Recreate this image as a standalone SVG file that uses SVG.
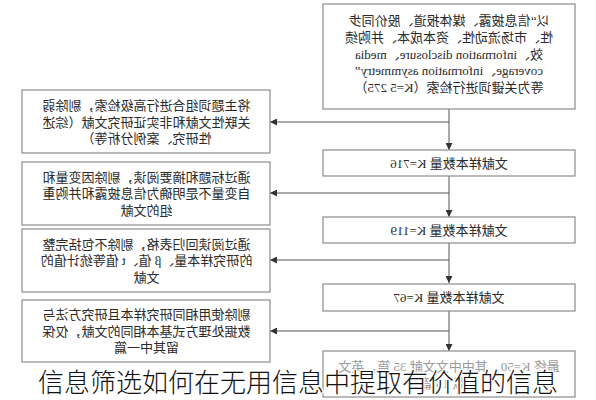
<svg xmlns="http://www.w3.org/2000/svg" width="596" height="400" viewBox="0 0 596 400">
<style>
.box{fill:#fff;stroke:#8c8c8c;stroke-width:1.2}
.t{font-family:"Liberation Serif","Noto Sans CJK SC",serif;font-size:13px;fill:#2a2a2a;text-anchor:middle}
.faint{fill:#9a9a9a}
.ln{fill:none;stroke:#555;stroke-width:1}
.cap{font-family:"Noto Sans CJK SC","Noto Sans",sans-serif;font-size:26px;font-weight:300;fill:#111;text-anchor:middle;stroke:#fff;stroke-width:3;paint-order:stroke;stroke-linejoin:round}
</style>
<defs>
<marker id="ah" viewBox="0 0 8 8" refX="8" refY="4" markerWidth="7" markerHeight="7" orient="auto" markerUnits="userSpaceOnUse">
<path d="M0,0 L8,4 L0,8 Z" fill="#333"/>
</marker>
</defs>
<rect width="596" height="400" fill="#fff"/>
<g id="connectors">
<path class="ln" d="M449,109 V150" marker-end="url(#ah)"/>
<path class="ln" d="M449,122 H270" marker-end="url(#ah)"/>
<path class="ln" d="M449,176 V217" marker-end="url(#ah)"/>
<path class="ln" d="M449,193 H270" marker-end="url(#ah)"/>
<path class="ln" d="M449,243 V283" marker-end="url(#ah)"/>
<path class="ln" d="M449,260 H270" marker-end="url(#ah)"/>
<path class="ln" d="M449,311 V351" marker-end="url(#ah)"/>
<path class="ln" d="M449,331 H270" marker-end="url(#ah)"/>
</g>
<g id="n_search">
<rect class="box" x="323" y="4" width="252" height="105"/>
<g transform="matrix(-1 0 0 1 898 0)">
<text class="t" x="449" y="25">以“信息披露、媒体报道、股价同步</text>
<text class="t" x="449" y="42">性、市场流动性、资本成本、并购绩</text>
<text class="t" x="449" y="59">效、information disclosure、media</text>
<text class="t" x="449" y="75">coverage、information asymmetry”</text>
<text class="t" x="449" y="92">等为关键词进行检索（K=5 275）</text>
</g>
</g>
<g id="n_k716">
<rect class="box" x="323" y="150" width="252" height="26"/>
<text class="t" x="449" y="167.5" transform="matrix(-1 0 0 1 898 0)">文献样本数量 K=716</text>
</g>
<g id="n_k119">
<rect class="box" x="323" y="217" width="252" height="26"/>
<text class="t" x="449" y="234.5" transform="matrix(-1 0 0 1 898 0)">文献样本数量 K=119</text>
</g>
<g id="n_k67">
<rect class="box" x="323" y="284" width="252" height="27"/>
<text class="t" x="449" y="302" transform="matrix(-1 0 0 1 898 0)">文献样本数量 K=67</text>
</g>
<g id="n_final">
<rect class="box" x="323" y="351" width="252" height="46"/>
<g transform="matrix(-1 0 0 1 898 0)">
<text class="t faint" x="449" y="371">最终 K=50，其中中文文献 35 篇，英文</text>
<text class="t faint" x="449" y="388">文献 15 篇</text>
</g>
</g>
<g id="n_ex1">
<rect class="box" x="22" y="90" width="248" height="63"/>
<g transform="matrix(-1 0 0 1 293 0)">
<text class="t" x="146.5" y="110">将主题词组合进行高级检索，剔除弱</text>
<text class="t" x="146.5" y="126.5">关联性文献和非实证研究文献（综述</text>
<text class="t" x="146.5" y="143">性研究、案例分析等）</text>
</g>
</g>
<g id="n_ex2">
<rect class="box" x="22" y="162" width="248" height="63"/>
<g transform="matrix(-1 0 0 1 293 0)">
<text class="t" x="146.5" y="181.5">通过标题和摘要阅读，剔除因变量和</text>
<text class="t" x="146.5" y="198">自变量不是明确为信息披露和并购重</text>
<text class="t" x="146.5" y="214.5">组的文献</text>
</g>
</g>
<g id="n_ex3">
<rect class="box" x="22" y="229" width="248" height="63"/>
<g transform="matrix(-1 0 0 1 293 0)">
<text class="t" x="146.5" y="248.5">通过阅读回归表格，剔除不包括完整</text>
<text class="t" x="146.5" y="265">的研究样本量、β 值、t 值等统计值的</text>
<text class="t" x="146.5" y="281.5">文献</text>
</g>
</g>
<g id="n_ex4">
<rect class="box" x="22" y="300" width="248" height="62"/>
<g transform="matrix(-1 0 0 1 293 0)">
<text class="t" x="146.5" y="319">剔除使用相同研究样本且研究方法与</text>
<text class="t" x="146.5" y="335.5">数据处理方式基本相同的文献，仅保</text>
<text class="t" x="146.5" y="352">留其中一篇</text>
</g>
</g>
<text class="cap" x="298" y="392">信息筛选如何在无用信息中提取有价值的信息</text>
</svg>
